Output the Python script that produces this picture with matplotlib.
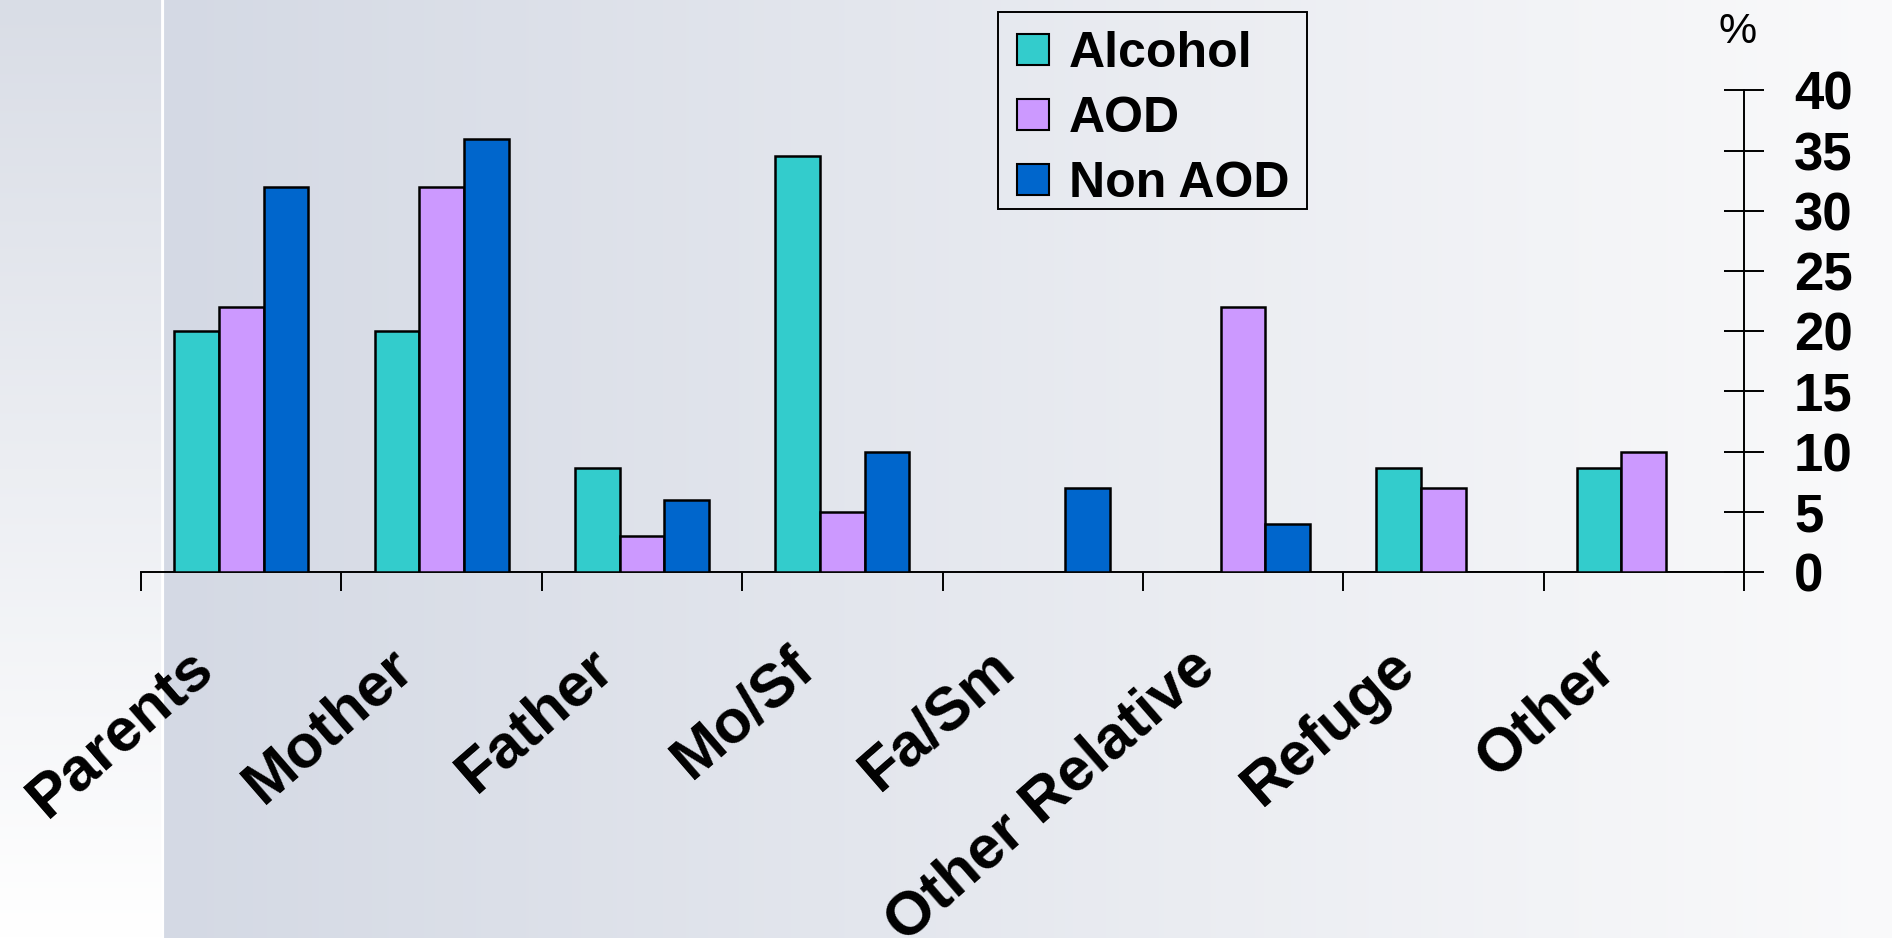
import numpy as np
import matplotlib.pyplot as plt
from matplotlib.patches import Rectangle
from matplotlib.transforms import ScaledTranslation

# living arrangement, % of each group
categories = ["Parents", "Mother", "Father", "Mo/Sf", "Fa/Sm",
              "Other Relative", "Refuge", "Other"]
alcohol = [20, 20, 8.6, 34.6, 0, 0, 8.6, 8.6]
aod = [22, 32, 3, 5, 0, 22, 7, 10]
non_aod = [32, 36, 6, 10, 7, 4, 0, 0]
series_names = ["Alcohol", "AOD", "Non AOD"]
series_colors = ["#33CCCC", "#CC99FF", "#0066CC"]
y_ticks = [0, 5, 10, 15, 20, 25, 30, 35, 40]

plt.rcParams['font.family'] = ['Liberation Sans', 'DejaVu Sans']
plt.rcParams['font.weight'] = 'bold'

W, H = 1892, 938
fig = plt.figure(figsize=(W / 100, H / 100), dpi=100)

# slide background: faded strip on the left, horizontal fade on the rest
strip = 161
img = np.zeros((H, W, 3))
t = np.clip((np.arange(W) - strip) / (W - strip), 0, 1)
c_left = np.array([212, 217, 228]) / 255
c_right = np.array([250, 250, 251]) / 255
img[:, :, :] = (c_left + t[:, None] * (c_right - c_left))[None, :, :]
v = np.arange(H) / (H - 1)
c_top = np.array([217, 221, 230]) / 255
c_bot = np.array([255, 255, 255]) / 255
img[:, :strip, :] = (c_top + v[:, None] * (c_bot - c_top))[:, None, :]
img[:, strip:strip + 3, :] = 1.0
bg = fig.add_axes([0, 0, 1, 1])
bg.imshow(img, aspect='auto', interpolation='bilinear')
bg.axis('off')

ax = fig.add_axes([141 / W, 1 - 572 / H, (1744 - 141) / W, (572 - 90.5) / H])
ax.set_facecolor('none')

x = np.arange(len(categories))
bw = 0.223
for i, (vals, name, col) in enumerate(zip([alcohol, aod, non_aod], series_names, series_colors)):
    ax.bar(x + (i - 1) * bw, vals, bw, color=col, edgecolor='black',
           linewidth=1.8, label=name, zorder=3)

ax.set_xlim(-0.5, len(categories) - 0.5)
ax.set_ylim(0, 40)

for s in ['left', 'top']:
    ax.spines[s].set_visible(False)
for s in ['bottom', 'right']:
    ax.spines[s].set_linewidth(1.4)

# y axis on the right, ticks crossing the line
ax.yaxis.tick_right()
ax.set_yticks(y_ticks)
ax.tick_params(axis='y', direction='inout', length=28.8, width=1.4,
               pad=21.6, labelsize=38)

# category ticks sit on the boundaries, labels at the centres
ax.set_xticks(np.arange(-0.5, len(categories), 1), minor=True)
ax.tick_params(axis='x', which='minor', direction='out', length=14, width=1.4)
ax.set_xticks(x)
ax.set_xticklabels(categories, rotation=41, ha='right', va='center',
                   rotation_mode='anchor', fontsize=44)
ax.tick_params(axis='x', which='major', length=0, pad=63)
shift = ScaledTranslation(-36 / 100, 0, fig.dpi_scale_trans)
for lab in ax.get_xticklabels():
    lab.set_transform(lab.get_transform() + shift)

fig.text(1738 / W, 1 - 32 / H, "%", ha='center', va='center',
         fontsize=31, fontweight='normal')

# legend entries without their own frame; box drawn separately
leg = ax.legend(loc='upper left', bbox_to_anchor=(1017 / W, 1 - 31 / H),
                bbox_transform=fig.transFigure, borderaxespad=0,
                fontsize=36, frameon=False,
                handlelength=0.64, handleheight=0.58, handletextpad=0.4,
                labelspacing=0.38, borderpad=0)
for p in leg.get_patches():
    p.set_linewidth(1.5)
fig.add_artist(Rectangle((998 / W, 1 - 209 / H), 309 / W, 197 / H,
                         transform=fig.transFigure, fill=False,
                         edgecolor='black', linewidth=1.4))

fig.savefig("out.png", dpi=100)
